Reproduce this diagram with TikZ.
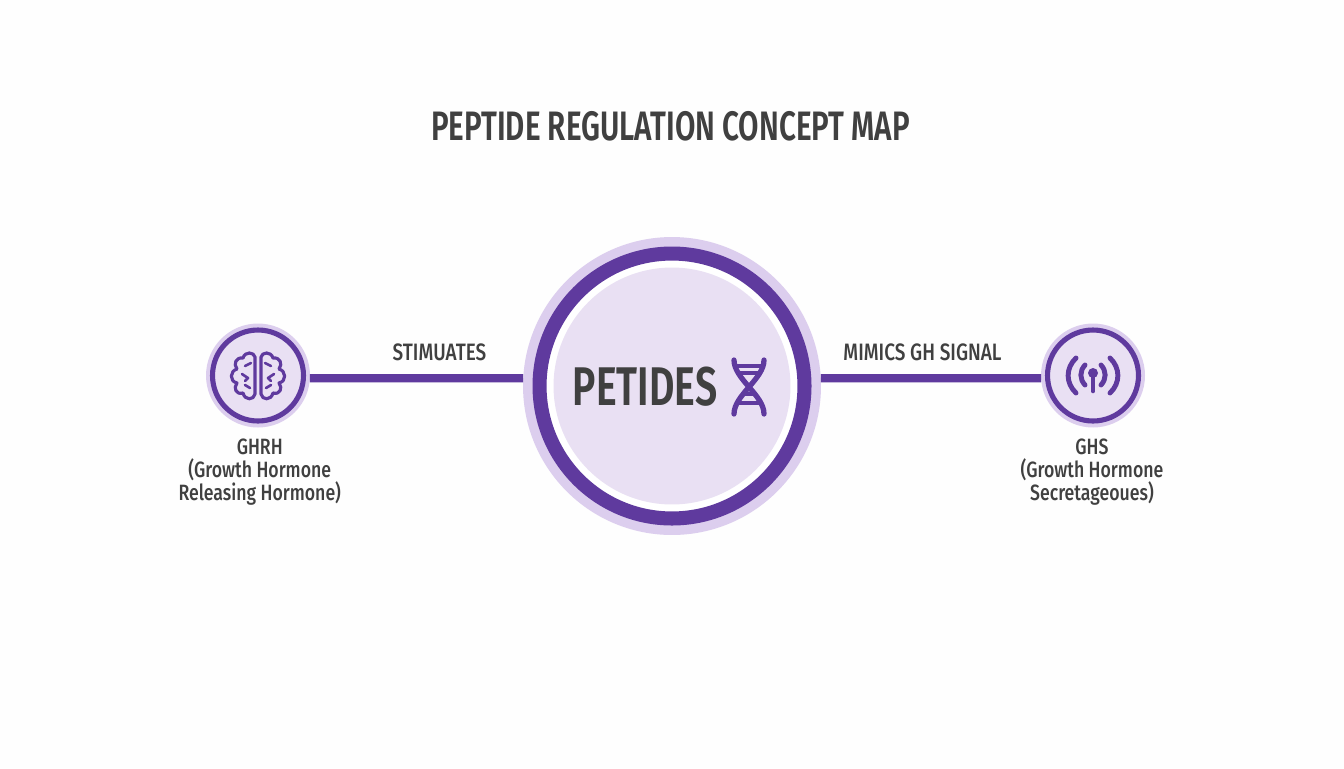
\documentclass[tikz,border=0pt]{standalone}
\usepackage{fontspec}
\setmainfont{Fira Sans}[FakeStretch=0.8,UprightFont=* Medium]
\newfontfamily\grasfont{Fira Sans}[FakeStretch=0.72,UprightFont=* SemiBold]
\usetikzlibrary{positioning}
\definecolor{deep}{HTML}{5F3A9E}
\definecolor{halo}{HTML}{DCCEEE}
\definecolor{pale}{HTML}{E9E0F3}
\definecolor{ink}{HTML}{404040}
\definecolor{paper}{HTML}{FEFEFE}
\tikzstyle{lien} = [line width=4.6pt,color=deep]
\tikzstyle{trait} = [line width=2pt,color=deep,line cap=round,line join=round]
\tikzstyle{halonode} = [circle,fill=halo,inner sep=0pt,outer sep=0pt]
\tikzstyle{etiquette} = [text=ink,font=\fontsize{13.5}{14.2}\selectfont,align=center,inner sep=0pt]
\tikzstyle{legende} = [text=ink,font=\fontsize{12.6}{13}\selectfont,align=center,inner sep=0pt]

\begin{document}
\begin{tikzpicture}[x=0.02cm,y=-0.02cm]
	\fill[paper] (0,0) rectangle (1344,768);

	\node[text=ink,font=\grasfont\fontsize{23.4}{25}\selectfont,inner sep=0pt] (titre) at (670.5,126) {PEPTIDE REGULATION CONCEPT MAP};

	% big circle
	\node[halonode,minimum size=5.96cm] (petides) at (672,386) {};
	\node[circle,draw=deep,line width=8pt,fill=white,minimum size=5.3cm,inner sep=0pt,outer sep=0pt] (anneau) at (672,386) {};
	\node[circle,fill=pale,minimum size=4.74cm,inner sep=0pt,outer sep=0pt] (coeur) at (672,386) {};
	\node[text=ink,font=\grasfont\fontsize{31}{32}\selectfont,inner sep=0pt] (nom) at (645,387) {PETIDES};

	% small circles
	\node[halonode,minimum size=2.08cm] (ghrh) at (258,375.5) {};
	\node[circle,draw=deep,fill=pale,line width=2.9pt,minimum size=1.82cm,inner sep=0pt,outer sep=0pt] (ghrhin) at (258,375.5) {};
	\node[halonode,minimum size=2.08cm] (ghs) at (1093,375.5) {};
	\node[circle,draw=deep,fill=pale,line width=2.9pt,minimum size=1.82cm,inner sep=0pt,outer sep=0pt] (ghsin) at (1093,375.5) {};

	\draw[lien] (ghrh.-3) -- (petides.177);
	\draw[lien] (petides.3) -- (ghs.183);

	\node[etiquette] (stim) at (439.5,352) {STIMUATES};
	\node[etiquette] (mimic) at (922.5,352) {MIMICS GH SIGNAL};
	\node[legende,below=6.5pt of ghrh.south,anchor=north,xshift=1pt] (ghrhtxt) {GHRH\\(Growth Hormone\\Releasing Hormone)};
	\node[legende,below=6.5pt of ghs.south,anchor=north,xshift=-0.6pt] (ghstxt) {GHS\\(Growth Hormone\\Secretageoues)};

	% brain
	\foreach \s in {-1,1} {
	\begin{scope}[shift={(258,376)},xscale=\s]
		\draw[trait,line width=1.8pt] (3,-19) .. controls (4,-24) and (13,-25) .. (15,-18)
			.. controls (22,-19) and (25,-12) .. (21,-7)
			.. controls (28,-5) and (29,5) .. (21,7)
			.. controls (25,12) and (22,19) .. (15,17)
			.. controls (13,25) and (4,24) .. (3,18) -- cycle;
		\draw[trait,line width=1.5pt] (7,-13) -- (13,-10) (16,-2) -- (10,2) -- (13,5) (8,12) -- (13,9);
	\end{scope}
	}

	% dna
	\begin{scope}[shift={(749,387)}]
		\draw[trait,line width=3pt] (-15,-27) .. controls (-15,-8) and (15,8) .. (15,27);
		\draw[trait,line width=3pt] (15,-27) .. controls (15,-8) and (-15,8) .. (-15,27);
		\draw[trait,line width=2pt,line cap=butt] (-12,-21) -- (12,-21) (-9,-14) -- (9,-14) (-6,7) -- (6,7) (-12,16) -- (12,16);
	\end{scope}

	% antenna
	\begin{scope}[shift={(1093,375)}]
		\fill[deep] (0,-2) circle (5);
		\draw[trait,line width=2.6pt] (0,0) -- (0,16);
		\foreach \s in {-1,1} {
			\draw[trait,line width=2.8pt,xscale=\s] (8,-10) .. controls (13.5,-4) and (13.5,4) .. (8,10);
			\draw[trait,line width=2.8pt,xscale=\s] (17,-17) .. controls (27.5,-7) and (27.5,8) .. (17,18);
		}
	\end{scope}
\end{tikzpicture}
\end{document}
